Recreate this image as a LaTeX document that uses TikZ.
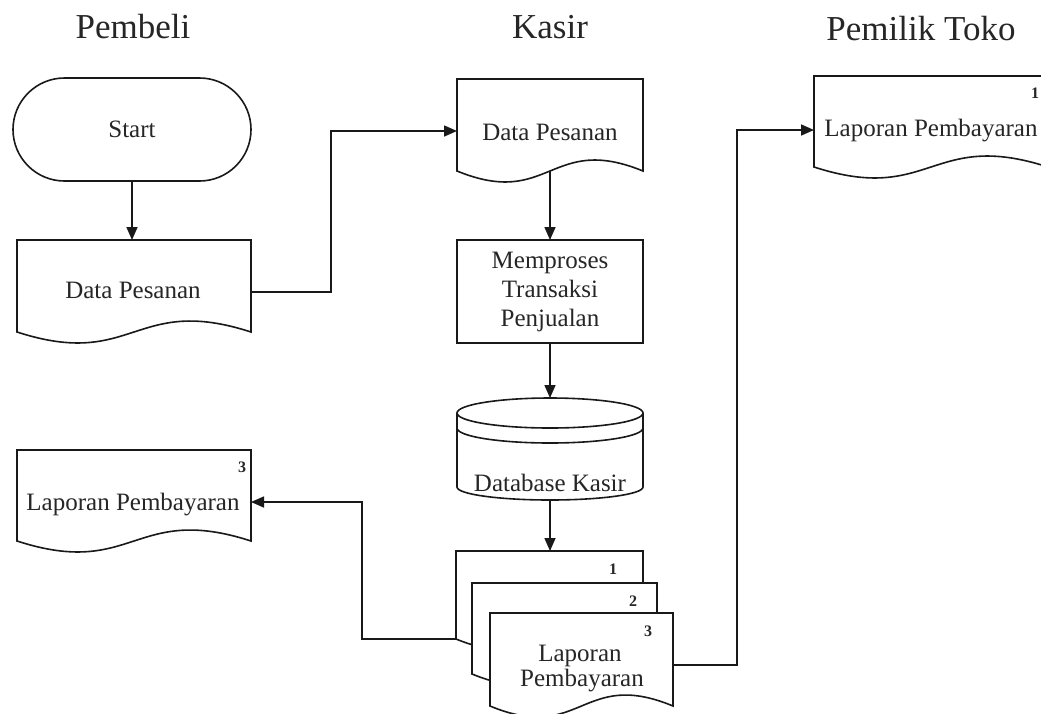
\documentclass[tikz,border=0pt]{standalone}
\usepackage{fontspec}
\setmainfont{Liberation Serif}
\usetikzlibrary{arrows.meta,calc,shapes.misc}

% document symbol: rectangle with a wavy bottom edge
\newcommand\drawdoc[1]{%
  \draw[outline, fill=white] (#1.north west) -- (#1.north east) -- (#1.south east)
    .. controls ($(#1.south)+(0,-38)$) and ($(#1.south)+(0,38)$) .. (#1.south west) -- cycle;}

\begin{document}
\begin{tikzpicture}[x=1pt,y=-1pt,
  outline/.style={draw=black!90, line width=1.6pt},
  every node/.style={inner sep=0pt, outer sep=0pt, text=black!85},
  ttl/.style={font=\fontsize{35}{40}\selectfont, anchor=base},
  txt/.style={font=\fontsize{25}{29}\selectfont, anchor=base},
  num/.style={font=\fontsize{16}{18}\selectfont\bfseries, anchor=base},
  box/.style 2 args={draw=none, minimum width=#1, minimum height=#2},
  flow/.style={draw=black!90, line width=1.6pt, -{Triangle[length=13pt,width=11pt]}}]

\useasboundingbox (0,0) rectangle (1041,713);
\clip (0,0) rectangle (1041,713);

% lane titles
\node[ttl] (tPembeli) at (133,38) {Pembeli};
\node[ttl] (tKasir)   at (550,38) {Kasir};
\node[ttl] (tPemilik) at (921,40) {Pemilik Toko};

% shapes
\node[outline, rounded rectangle, minimum width=238pt, minimum height=103pt,
      font=\fontsize{25}{29}\selectfont] (start) at (132,129.5) {Start};
\node[box={234pt}{92pt}]  (dpA)  at (134,286)     {};
\node[box={186pt}{92pt}]  (dpB)  at (550,125)     {};
\node[outline, minimum width=186pt, minimum height=103pt, align=center,
      font=\fontsize{25}{29}\selectfont] (mp) at (550,291.5) {Memproses\\Transaksi\\Penjualan};
\node[box={186pt}{102pt}] (db)   at (550,449)     {};
\node[box={187pt}{88pt}]  (doc1) at (549.5,595)   {};
\node[box={185pt}{91pt}]  (doc2) at (564.5,628.5) {};
\node[box={183pt}{93pt}]  (doc3) at (581.5,659.5) {};
\node[box={234pt}{91pt}]  (lapL) at (134,495.5)   {};
\node[box={234pt}{91pt}]  (lapR) at (931,121.5)   {};

% document outlines and their texts
\drawdoc{dpA}
\node[txt] (lDpA) at (133,298) {Data Pesanan};
\drawdoc{dpB}
\node[txt] (lDpB) at (550,140) {Data Pesanan};
\drawdoc{lapL}
\node[txt] (lLapL) at (133,510) {Laporan Pembayaran};
\node[num] (nL3) at (242,472) {3};
\drawdoc{lapR}
\node[txt] (lLapR) at (931,136) {Laporan Pembayaran};
\node[num] (nR1) at (1035,98) {1};

% database cylinder
\draw[outline, fill=white] ($(db.north west)+(0,15)$) -- ($(db.south west)+(0,-13)$)
  arc[start angle=180, end angle=360, x radius=93pt, y radius=13pt]
  -- ($(db.north east)+(0,15)$)
  arc[start angle=0, end angle=180, x radius=93pt, y radius=15pt] -- cycle;
\draw[outline] ($(db.north west)+(0,15)$) arc[start angle=180, end angle=360, x radius=93pt, y radius=15pt];
\draw[outline] ($(db.north west)+(0,30)$) arc[start angle=180, end angle=360, x radius=93pt, y radius=15pt];
\node[txt] (lDb) at (550,491) {Database Kasir};

% stacked report copies
\drawdoc{doc1}
\node[num] (n1) at (613,574) {1};
\drawdoc{doc2}
\node[num] (n2) at (633,606) {2};
\drawdoc{doc3}
\node[num] (n3) at (648,636) {3};
\node[txt] (lLap3a) at (580,661) {Laporan};
\node[txt] (lLap3b) at (582,686) {Pembayaran};

% bend points
\coordinate (jA) at (331,200);
\coordinate (jB) at (362,570);
\coordinate (jC) at (737,400);

% connectors
\draw[flow] (start.south) -- (start.south |- dpA.north);
\draw[flow] ([yshift=-6pt]dpA.east) -| (jA) |- ([yshift=-6pt]dpB.west);
\draw[flow] (dpB.south) -- (mp.north);
\draw[flow] (mp.south) -- (db.north);
\draw[flow] (db.south) -- (db.south |- doc1.north);
\draw[flow] (doc1.south west) -| (jB) |- ([yshift=-6.5pt]lapL.east);
\draw[flow] ([yshift=-5.5pt]doc3.east) -| (jC) |- ([yshift=-8.5pt]lapR.west);

\end{tikzpicture}
\end{document}
